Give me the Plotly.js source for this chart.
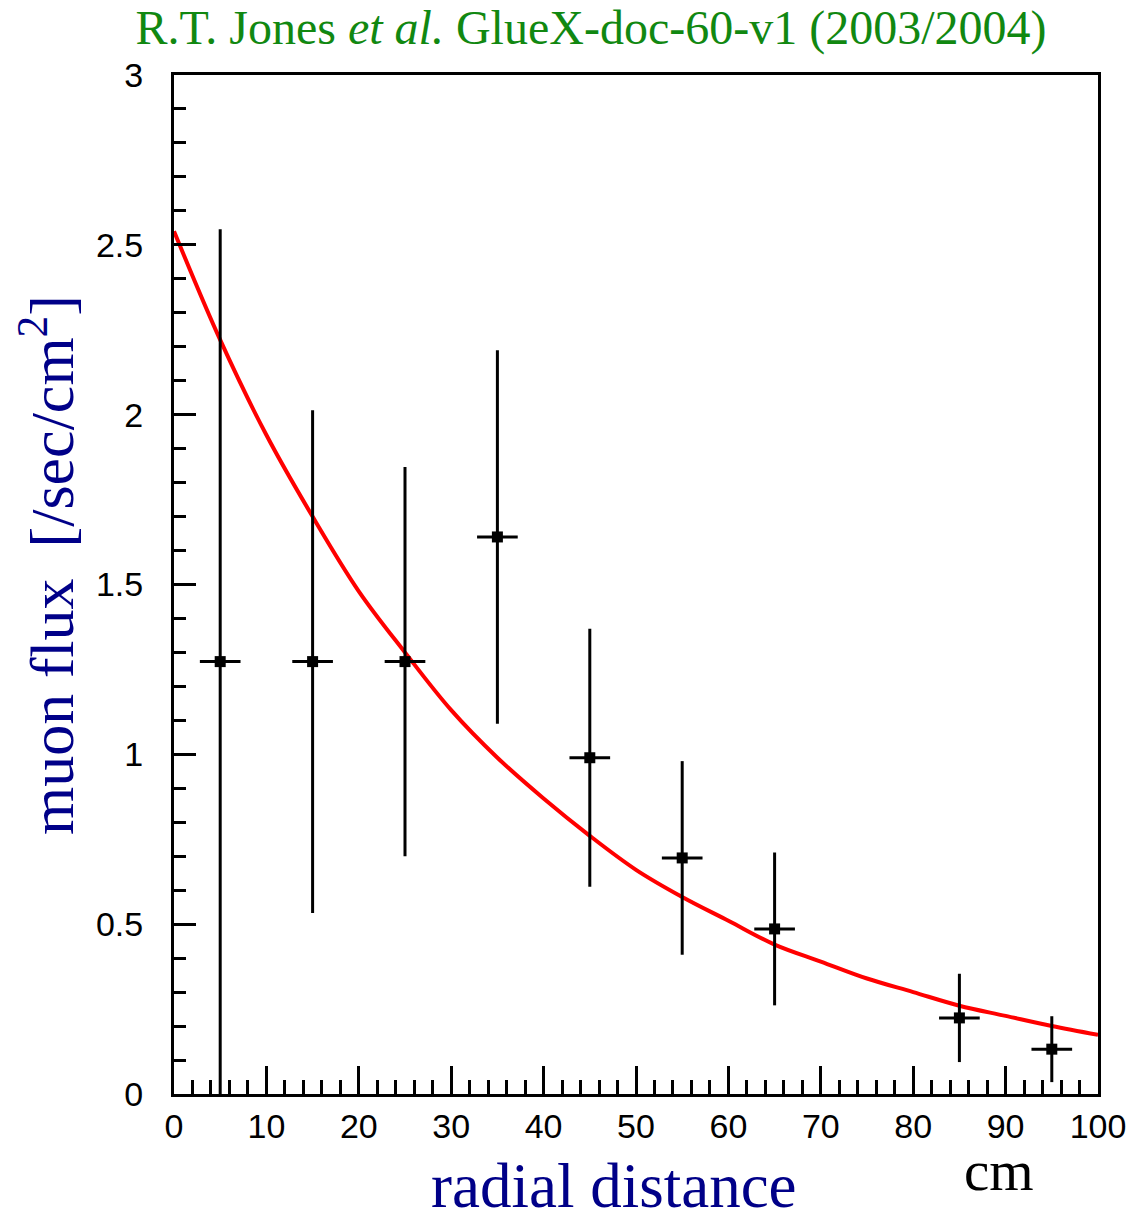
<!DOCTYPE html>
<html>
<head>
<meta charset="utf-8">
<script src="https://cdn.plot.ly/plotly-3.0.1.min.js"></script>
<style>
  html, body { margin: 0; padding: 0; background: #ffffff; }
  #chart { width: 1146px; height: 1214px; }
</style>
</head>
<body>
<div id="chart"></div>
<script>
// Measured muon flux per radial bin (bin centres in cm)
const radius = [5, 15, 25, 35, 45, 55, 65, 85, 95];
const flux = [1.273, 1.273, 1.273, 1.64, 0.99, 0.695, 0.486, 0.224, 0.132];
const fluxErr = [1.273, 0.74, 0.573, 0.55, 0.38, 0.285, 0.225, 0.13, 0.097];
const radiusErr = [2.2, 2.2, 2.2, 2.2, 2.2, 2.2, 2.2, 2.2, 2.2];

// Exponential fit curve, sampled every 5 cm
const fitRadius = [0, 5, 10, 15, 20, 25, 30, 35, 40, 45, 50, 55, 60, 65, 70, 75, 80, 85, 90, 95, 100];
const fitFlux = [2.54, 2.22, 1.94, 1.70, 1.48, 1.30, 1.13, 0.99, 0.87, 0.76, 0.66, 0.58, 0.51, 0.44, 0.39, 0.34, 0.30, 0.26, 0.23, 0.20, 0.174];

// Axis tick values and labels
const xTicks = [0, 10, 20, 30, 40, 50, 60, 70, 80, 90, 100];
const xTickText = ['0', '10', '20', '30', '40', '50', '60', '70', '80', '90', '100'];
const yTicks = [0, 0.5, 1, 1.5, 2, 2.5, 3];
const yTickText = ['0', '0.5', '1', '1.5', '2', '2.5', '3'];

const titleText = 'R.T. Jones <i>et al.</i> GlueX-doc-60-v1 (2003/2004)';
const yTitleText = 'muon flux\u00a0 [/sec/cm<sup>2</sup>]';
const xTitleText = 'radial distance';
const xUnitText = 'cm';

const fitTrace = {
  x: fitRadius,
  y: fitFlux,
  type: 'scatter',
  mode: 'lines',
  line: { color: '#ff0000', width: 4, shape: 'spline', smoothing: 1 },
  hoverinfo: 'skip',
  showlegend: false
};

const dataTrace = {
  x: radius,
  y: flux,
  type: 'scatter',
  mode: 'markers',
  marker: { color: '#000000', symbol: 'square', size: 11 },
  error_y: { type: 'data', array: fluxErr, visible: true, color: '#000000', thickness: 3, width: 0 },
  error_x: { type: 'data', array: radiusErr, visible: true, color: '#000000', thickness: 3, width: 0 },
  showlegend: false
};

const tickFont = { family: 'Liberation Sans, Arial, sans-serif', size: 34, color: '#000000' };
const serif = 'Liberation Serif, Times New Roman, serif';

const layout = {
  width: 1146,
  height: 1214,
  paper_bgcolor: '#ffffff',
  plot_bgcolor: '#ffffff',
  margin: { l: 174, r: 48, t: 75, b: 120 },
  showlegend: false,
  title: {
    text: titleText,
    font: { family: serif, size: 48, color: '#118811' },
    xref: 'container', x: 591 / 1146, xanchor: 'center',
    yref: 'container', y: 1 - 27 / 1214, yanchor: 'middle'
  },
  xaxis: {
    range: [0, 100],
    tickmode: 'array', tickvals: xTicks, ticktext: xTickText,
    ticks: 'inside', ticklen: 28, tickwidth: 3, tickcolor: '#000000',
    minor: { dtick: 2, ticks: 'inside', ticklen: 14, tickwidth: 3, tickcolor: '#000000' },
    showline: true, linecolor: '#000000', linewidth: 3, mirror: true,
    showgrid: false, zeroline: false,
    tickfont: tickFont,
    ticklabelstandoff: 0
  },
  yaxis: {
    range: [0, 3],
    tickmode: 'array', tickvals: yTicks, ticktext: yTickText,
    ticks: 'inside', ticklen: 22, tickwidth: 3, tickcolor: '#000000',
    minor: { dtick: 0.1, ticks: 'inside', ticklen: 12, tickwidth: 3, tickcolor: '#000000' },
    showline: true, linecolor: '#000000', linewidth: 3, mirror: true,
    showgrid: false, zeroline: false,
    tickfont: tickFont,
    ticklabelstandoff: 21
  },
  annotations: [
    {
      text: yTitleText, textangle: -90,
      xref: 'paper', yref: 'paper',
      x: (47 - 174) / 924, y: (1094 - 565) / 1019,
      xanchor: 'center', yanchor: 'middle', showarrow: false,
      font: { family: serif, size: 62, color: '#000088' }
    },
    {
      text: xTitleText,
      xref: 'paper', yref: 'paper',
      x: (614 - 174) / 924, y: (1094 - 1186) / 1019,
      xanchor: 'center', yanchor: 'middle', showarrow: false,
      font: { family: serif, size: 63, color: '#000088' }
    },
    {
      text: xUnitText,
      xref: 'paper', yref: 'paper',
      x: (999 - 174) / 924, y: (1094 - 1170) / 1019,
      xanchor: 'center', yanchor: 'middle', showarrow: false,
      font: { family: serif, size: 57, color: '#000000' }
    }
  ]
};

Plotly.newPlot('chart', [fitTrace, dataTrace], layout, { displayModeBar: false, staticPlot: true });
</script>
</body>
</html>
